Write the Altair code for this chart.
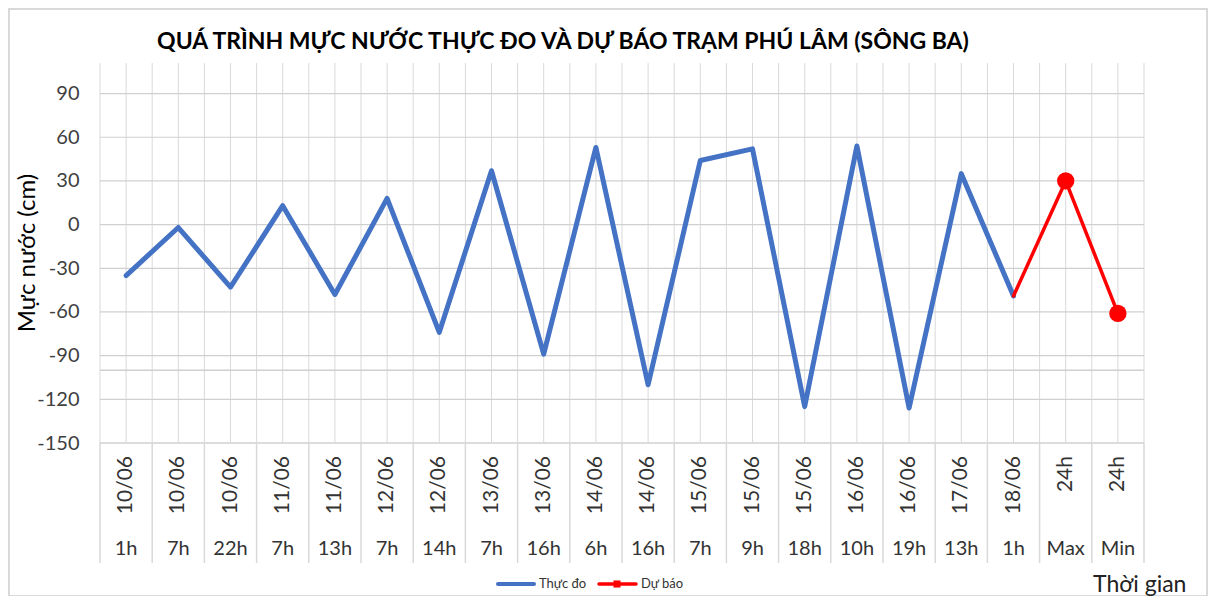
import altair as alt
import pandas as pd
import numpy as np

dates = ["10/06", "10/06", "10/06", "11/06", "11/06", "12/06", "12/06", "13/06",
         "13/06", "14/06", "14/06", "15/06", "15/06", "15/06", "16/06", "16/06",
         "17/06", "18/06", "24h", "24h"]
hours = ["1h", "7h", "22h", "7h", "13h", "7h", "14h", "7h", "16h", "6h", "16h",
         "7h", "9h", "18h", "10h", "19h", "13h", "1h", "Max", "Min"]
observed = [-35, -2, -43, 13, -48, 18, -74, 37, -89, 53, -110, 44, 52, -125,
            54, -126, 35, -49]
forecast = [-49, 30, -61]
forecast_idx = [17, 18, 19]
y_ticks = [-150, -120, -90, -60, -30, 0, 30, 60, 90]
ref_level = [-100]

W, H = 1044, 380
FONT = "Lato"
GRID = "#d9d9d9"

n = len(hours)
cat = pd.DataFrame({"i": list(range(n)), "date": dates, "hour": hours})
obs = pd.DataFrame({"i": list(range(len(observed))), "v": observed})
fc = pd.DataFrame({"i": forecast_idx, "v": forecast})
fc_pts = fc[fc["i"] >= 18]
bounds = pd.DataFrame({"b": [k - 0.5 for k in range(n + 1)]})
vgrid = pd.DataFrame({"g": list(np.arange(-0.5, n, 0.5))})
hgrid = pd.DataFrame({"v": y_ticks})
ref = pd.DataFrame({"v": ref_level})

xs = alt.Scale(domain=[-0.5, n - 0.5], nice=False, zero=False)
ys = alt.Scale(domain=[-150, 111], nice=False, zero=False)
yaxis = alt.Axis(values=y_ticks, grid=False, ticks=False, domain=False,
                 labelFont=FONT, labelFontSize=20, labelColor="#404040",
                 labelPadding=21, title=None,
                 labelExpr="toString(datum.value)")
X = lambda f: alt.X(f, type="quantitative", scale=xs, axis=None)
Y = lambda f: alt.Y(f, type="quantitative", scale=ys, axis=yaxis)

one = alt.Data(values=[{"a": 1}])

border = alt.Chart(one).mark_rect(fill="transparent", stroke=GRID, strokeWidth=2).encode(
    x=alt.value(-91), x2=alt.value(1107), y=alt.value(-54), y2=alt.value(533))

vg = alt.Chart(vgrid).mark_rule(color=GRID, strokeWidth=1).encode(
    x=X("g"), y=alt.value(0), y2=alt.value(H))

hg = alt.Chart(hgrid).mark_rule(color="#d0d0d0", strokeWidth=1.2).encode(
    y=Y("v"), x=alt.value(0), x2=alt.value(W))

refl = alt.Chart(ref).mark_rule(color="#d0d0d0", strokeWidth=1.6).encode(
    y=Y("v"), x=alt.value(0), x2=alt.value(W))

box_top = alt.Chart(one).mark_rule(color=GRID, strokeWidth=1.5).encode(
    y=alt.value(H), x=alt.value(0), x2=alt.value(W))

seps = alt.Chart(bounds).mark_rule(color=GRID, strokeWidth=1.5).encode(
    x=X("b"), y=alt.value(H), y2=alt.value(H + 120))

date_txt = alt.Chart(cat).mark_text(
    angle=270, align="right", baseline="middle", font=FONT, fontSize=21,
    color="#333333").encode(x=X("i"), y=alt.value(H + 13), text="date:N")

hour_txt = alt.Chart(cat).mark_text(
    align="center", baseline="middle", font=FONT, fontSize=20,
    color="#333333").encode(x=X("i"), y=alt.value(H + 106), text="hour:N")

line_obs = alt.Chart(obs).mark_line(
    color="#4472C4", strokeWidth=5, strokeCap="round", strokeJoin="round").encode(
    x=X("i"), y=Y("v"))

line_fc = alt.Chart(fc).mark_line(
    color="#FF0000", strokeWidth=3.5, strokeCap="round", strokeJoin="round").encode(
    x=X("i"), y=Y("v"))

pts_fc = alt.Chart(fc_pts).mark_point(
    filled=True, color="#FF0000", size=300, opacity=1).encode(x=X("i"), y=Y("v"))

title = alt.Chart(one).mark_text(
    text="QUÁ TRÌNH MỰC NƯỚC THỰC ĐO VÀ DỰ BÁO TRẠM PHÚ LÂM (SÔNG BA)",
    font=FONT, fontSize=23, fontWeight="bold", color="#000000",
    align="center", baseline="middle").encode(x=alt.value(463), y=alt.value(-21))

ytitle = alt.Chart(one).mark_text(
    text="Mực nước (cm)", font=FONT, fontSize=24, color="#000000", angle=270,
    align="center", baseline="middle").encode(x=alt.value(-72), y=alt.value(190))

xtitle = alt.Chart(one).mark_text(
    text="Thời gian", font=FONT, fontSize=23, color="#222222",
    align="left", baseline="middle").encode(x=alt.value(993), y=alt.value(522))

leg_blue = alt.Chart(one).mark_rule(color="#4472C4", strokeWidth=4, strokeCap="round").encode(
    x=alt.value(398), x2=alt.value(434), y=alt.value(521))
leg_blue_t = alt.Chart(one).mark_text(
    text="Thực đo", font=FONT, fontSize=13, color="#333333", align="left",
    baseline="middle").encode(x=alt.value(439), y=alt.value(521))
leg_red = alt.Chart(one).mark_rule(color="#FF0000", strokeWidth=3.5, strokeCap="round").encode(
    x=alt.value(499), x2=alt.value(536), y=alt.value(521))
leg_red_m = alt.Chart(one).mark_point(shape="square", filled=True, color="#FF0000",
                                       size=50, opacity=1).encode(
    x=alt.value(517), y=alt.value(521))
leg_red_t = alt.Chart(one).mark_text(
    text="Dự báo", font=FONT, fontSize=13, color="#333333", align="left",
    baseline="middle").encode(x=alt.value(541), y=alt.value(521))

chart = alt.layer(
    border, vg, hg, refl, box_top, seps, date_txt, hour_txt,
    line_obs, line_fc, pts_fc, title, ytitle, xtitle,
    leg_blue, leg_blue_t, leg_red, leg_red_m, leg_red_t
).properties(
    width=W, height=H,
    autosize=alt.AutoSizeParams(type="none"),
    padding={"left": 92, "top": 55, "right": 64, "bottom": 153},
    background="white"
).configure_view(stroke=None)

chart.save("out.html", embed_options={"renderer": "svg", "actions": False})
